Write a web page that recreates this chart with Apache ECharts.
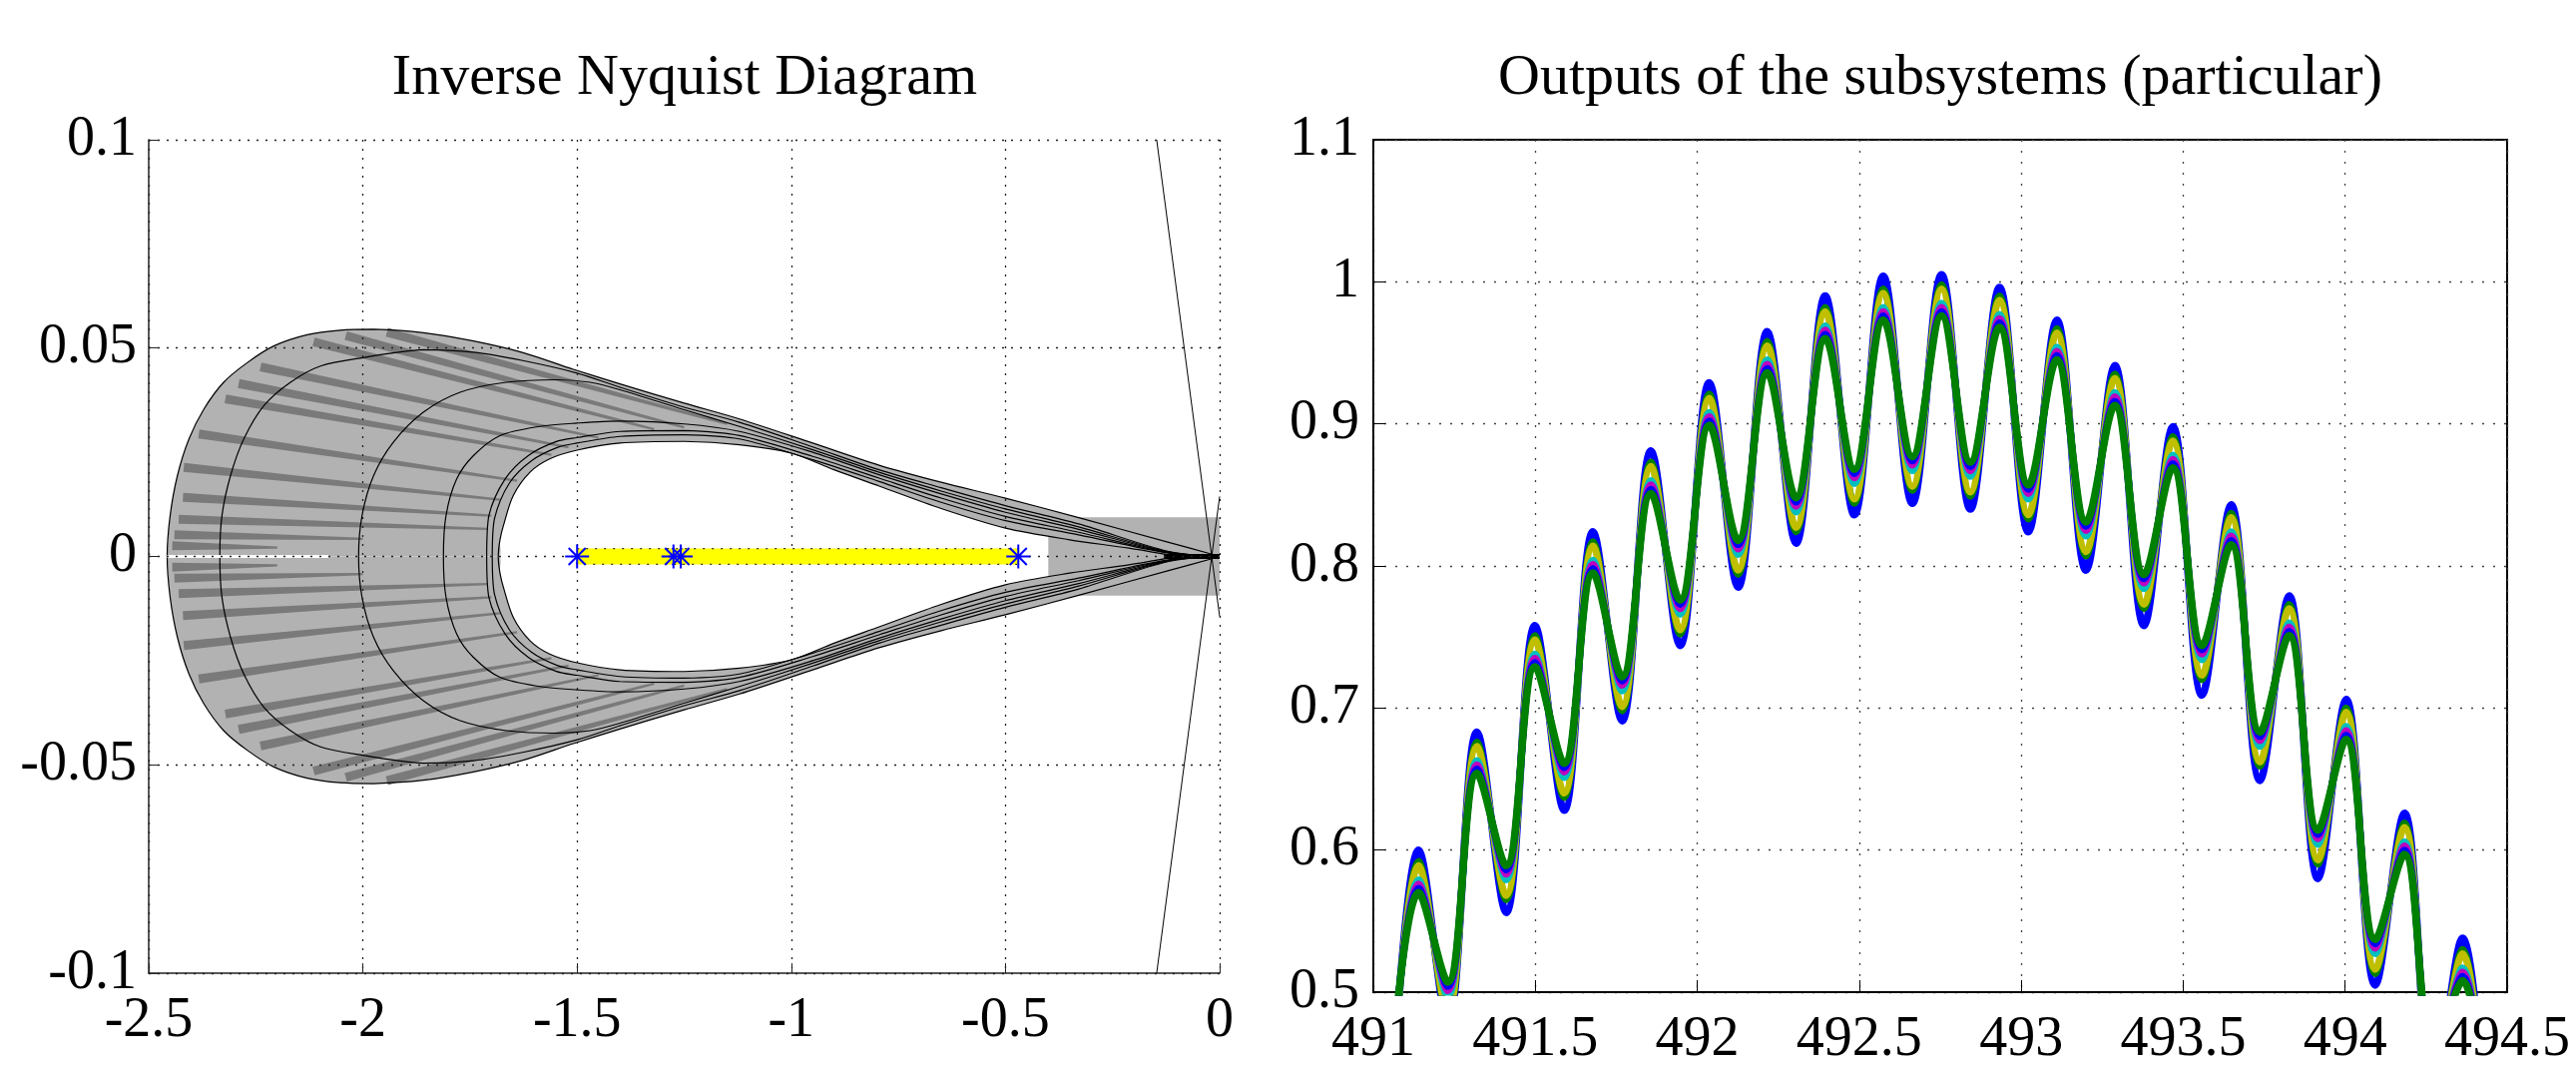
<!DOCTYPE html>
<html>
<head>
<meta charset="utf-8">
<script src="https://cdn.jsdelivr.net/npm/echarts@6/dist/echarts.min.js"></script>
<style>
  html, body { margin: 0; background: #fff; }
  #chart { width: 2581px; height: 1070px; }
</style>
</head>
<body>
<div id="chart"></div>
<script>
// ---------- left panel: inverse Nyquist templates (upper half, mirrored below) ----------
const outerEdge = [[-2.457, 0], [-2.450, 0.0098], [-2.433, 0.0194], [-2.406, 0.0282], [-2.371, 0.0354], [-2.325, 0.0418],
  [-2.270, 0.0465], [-2.208, 0.0505], [-2.130, 0.0532], [-2.053, 0.0543], [-1.975, 0.0545], [-1.859, 0.0537],
  [-1.742, 0.0517], [-1.626, 0.0489], [-1.509, 0.0449], [-1.400, 0.0414], [-1.250, 0.0368], [-1.121, 0.0330],
  [-0.950, 0.0272], [-0.795, 0.0219], [-0.650, 0.0178], [-0.500, 0.0140], [-0.329, 0.0093], [-0.119, 0.0034],
  [-0.020, 0.0006], [0, 0]];
const innerEdge = [[-1.684, 0], [-1.680, 0.0040], [-1.672, 0.0074], [-1.649, 0.0146], [-1.610, 0.0202], [-1.564, 0.0234],
  [-1.500, 0.0255], [-1.400, 0.0272], [-1.250, 0.0276], [-1.121, 0.0268], [-1.000, 0.0248], [-0.900, 0.0208],
  [-0.795, 0.0169], [-0.650, 0.0115], [-0.500, 0.0068], [-0.350, 0.0040], [-0.212, 0.0020], [-0.120, 0.0004], [-0.100, 0]];
const loopB = [[-2.334, 0], [-2.329, 0.0098], [-2.309, 0.0194], [-2.278, 0.0282], [-2.231, 0.0362], [-2.169, 0.0418],
  [-2.099, 0.0457], [-2.000, 0.0477], [-1.859, 0.0496], [-1.742, 0.0490], [-1.627, 0.0470], [-1.500, 0.0440],
  [-1.400, 0.0406], [-1.250, 0.0358], [-1.121, 0.0322], [-0.950, 0.0263], [-0.795, 0.0208], [-0.650, 0.0165],
  [-0.500, 0.0122], [-0.329, 0.0078], [-0.119, 0.0012], [0, 0]];
const loopC = [[-2.010, 0], [-2.002, 0.0098], [-1.975, 0.0194], [-1.929, 0.0274], [-1.859, 0.0346], [-1.773, 0.0394],
  [-1.665, 0.0418], [-1.548, 0.0424], [-1.470, 0.0418], [-1.400, 0.0400], [-1.250, 0.0352], [-1.121, 0.0312],
  [-0.950, 0.0256], [-0.795, 0.0202], [-0.650, 0.0157], [-0.500, 0.0114], [-0.329, 0.0071], [-0.119, 0.0011], [0, 0]];
const loopD = [[-1.812, 0], [-1.806, 0.0098], [-1.781, 0.0186], [-1.742, 0.0242], [-1.680, 0.0290], [-1.587, 0.0312],
  [-1.500, 0.0320], [-1.400, 0.0325], [-1.250, 0.0318], [-1.121, 0.0300], [-0.950, 0.0250], [-0.795, 0.0196],
  [-0.650, 0.0150], [-0.500, 0.0106], [-0.329, 0.0065], [-0.119, 0.0010], [0, 0]];
const loopE1 = [[-1.711, 0], [-1.706, 0.0098], [-1.668, 0.0186], [-1.614, 0.0242], [-1.550, 0.0275], [-1.500, 0.0285],
  [-1.400, 0.0300], [-1.250, 0.0302], [-1.121, 0.0290], [-0.950, 0.0240], [-0.795, 0.0188], [-0.650, 0.0140],
  [-0.500, 0.0096], [-0.329, 0.0058], [-0.119, 0.0009], [0, 0]];
const loopE2 = [[-1.698, 0], [-1.693, 0.0090], [-1.658, 0.0176], [-1.606, 0.0230], [-1.545, 0.0262], [-1.500, 0.0272],
  [-1.400, 0.0288], [-1.250, 0.0292], [-1.121, 0.0282], [-0.950, 0.0232], [-0.795, 0.0180], [-0.650, 0.0130],
  [-0.500, 0.0086], [-0.329, 0.0052], [-0.119, 0.0008], [0, 0]];
// darker overlap stripes: x1, y1 (outer end), x2, y2 (inner end)
const stripes = [
  [-1.944, 0.0538, -1.15, 0.0318], [-2.040, 0.0530, -1.25, 0.0310], [-2.115, 0.0515, -1.32, 0.0305],
  [-2.239, 0.0455, -1.45, 0.0285], [-2.290, 0.0415, -1.52, 0.0262], [-2.321, 0.0378, -1.56, 0.0244],
  [-2.383, 0.0294, -1.64, 0.0182], [-2.418, 0.0214, -1.68, 0.0136], [-2.420, 0.0142, -1.70, 0.0098],
  [-2.430, 0.0089, -1.71, 0.0066], [-2.440, 0.0052, -2.00, 0.0042], [-2.445, 0.0026, -2.20, 0.0021]
];
const markerX = [-1.5, -1.275, -1.258, -0.47];
const yellowBar = [-1.5, -0.47, 0.0019];     // x from, x to, half height
const tipRect = [-0.40, 0, 0.0094];          // x from, x to, half height
const crossLines = [[[-0.147, 0.1], [0, -0.0144]], [[-0.147, -0.1], [0, 0.0144]]];
const seam = [[-2.457, 0], [-2.08, 0]];

// ---------- right panel: subsystem outputs (peaks and troughs) ----------
const outX = [491.051, 491.140, 491.230, 491.320, 491.410, 491.499, 491.589, 491.678, 491.768, 491.857,
  491.947, 492.037, 492.126, 492.216, 492.305, 492.395, 492.485, 492.574, 492.664, 492.754, 492.843,
  492.933, 493.022, 493.110, 493.200, 493.289, 493.379, 493.468, 493.558, 493.648, 493.737, 493.827,
  493.916, 494.003, 494.093, 494.183, 494.272, 494.362, 494.451];
const outBlue = [0.400, 0.600, 0.478, 0.683, 0.556, 0.758, 0.628, 0.824, 0.691, 0.881, 0.744, 0.929, 0.785, 0.965,
  0.816, 0.990, 0.836, 1.004, 0.844, 1.005, 0.840, 0.996, 0.824, 0.973, 0.797, 0.941, 0.758, 0.898, 0.709,
  0.843, 0.649, 0.779, 0.580, 0.706, 0.505, 0.626, 0.430, 0.538, 0.340];
const outGreen2 = [0.406, 0.592, 0.483, 0.676, 0.565, 0.751, 0.637, 0.817, 0.698, 0.873, 0.752, 0.921, 0.794, 0.958,
  0.824, 0.982, 0.844, 0.995, 0.853, 0.998, 0.849, 0.990, 0.833, 0.967, 0.807, 0.935, 0.770, 0.891, 0.720,
  0.837, 0.659, 0.773, 0.590, 0.700, 0.513, 0.619, 0.436, 0.530, 0.346];
const outYellow = [0.409, 0.589, 0.486, 0.673, 0.568, 0.748, 0.640, 0.814, 0.701, 0.870, 0.755, 0.918, 0.797, 0.955,
  0.827, 0.979, 0.847, 0.992, 0.856, 0.995, 0.852, 0.987, 0.836, 0.964, 0.810, 0.932, 0.773, 0.888, 0.723,
  0.834, 0.662, 0.770, 0.593, 0.697, 0.516, 0.616, 0.439, 0.527, 0.349];
const outCyan = [0.420, 0.579, 0.497, 0.663, 0.579, 0.738, 0.651, 0.804, 0.712, 0.860, 0.766, 0.908, 0.808, 0.945,
  0.838, 0.969, 0.858, 0.982, 0.867, 0.985, 0.863, 0.977, 0.847, 0.954, 0.821, 0.922, 0.784, 0.878, 0.734,
  0.824, 0.673, 0.760, 0.604, 0.687, 0.527, 0.606, 0.450, 0.517, 0.360];
const outMagenta = [0.424, 0.576, 0.501, 0.660, 0.583, 0.735, 0.655, 0.801, 0.716, 0.857, 0.770, 0.905, 0.812, 0.942,
  0.842, 0.966, 0.862, 0.979, 0.871, 0.982, 0.867, 0.974, 0.851, 0.951, 0.825, 0.919, 0.788, 0.875, 0.738,
  0.821, 0.677, 0.757, 0.608, 0.684, 0.531, 0.603, 0.454, 0.514, 0.364];
const outBlue2 = [0.427, 0.573, 0.504, 0.657, 0.586, 0.732, 0.658, 0.798, 0.719, 0.854, 0.773, 0.902, 0.815, 0.939,
  0.845, 0.963, 0.865, 0.976, 0.874, 0.979, 0.870, 0.971, 0.854, 0.948, 0.828, 0.916, 0.791, 0.872, 0.741,
  0.818, 0.680, 0.754, 0.611, 0.681, 0.534, 0.600, 0.457, 0.511, 0.367];
const outGreen = [0.430, 0.570, 0.507, 0.654, 0.589, 0.729, 0.661, 0.795, 0.722, 0.851, 0.776, 0.899, 0.818, 0.936,
  0.848, 0.960, 0.868, 0.973, 0.877, 0.976, 0.873, 0.968, 0.857, 0.945, 0.831, 0.913, 0.794, 0.869, 0.744,
  0.815, 0.683, 0.751, 0.614, 0.678, 0.537, 0.597, 0.460, 0.508, 0.370];

const serif = '"Liberation Serif", "Times New Roman", serif';
const tickFont = 56;

const chart = echarts.init(document.getElementById('chart'));

function mirror(pts) { return pts.map(p => [p[0], -p[1]]); }
function fullLoop(upper) { return mirror(upper).reverse().concat(upper.slice(1)); }
function bbox(pts) { return [pts[0], pts[0]]; }

const bandUpper = outerEdge.concat(innerEdge.slice().reverse());
const bandLower = mirror(bandUpper);
const loops = [outerEdge, loopB, loopC, loopD, loopE1, loopE2, innerEdge].map(fullLoop);
const allStripes = stripes.concat(stripes.map(s => [s[0], -s[1], s[2], -s[3]]));

function polySeries(points, color) {
  return {
    type: 'custom', xAxisIndex: 0, yAxisIndex: 0, silent: true, z: 2,
    data: [[-1, 0]],
    renderItem: function (params, api) {
      const px = points.map(p => api.coord(p));
      return { type: 'polygon', shape: { points: px, smooth: 0.3, smoothConstraint: bbox(px) }, style: { fill: color } };
    }
  };
}

const axisText = { fontFamily: serif, fontSize: tickFont, color: '#000' };
const dotted = { type: [2, 7], color: '#222', width: 1.3 };

function outLine(vals, color, width) {
  return {
    type: 'line', xAxisIndex: 1, yAxisIndex: 1, showSymbol: false, smooth: 0.36,
    lineStyle: { color: color, width: width, join: 'round' },
    data: outX.map((x, i) => [x, vals[i]])
  };
}

const option = {
  animation: false,
  backgroundColor: '#fff',
  title: [
    { text: 'Inverse Nyquist Diagram', left: 686, top: 50, textAlign: 'center', padding: 0,
      textStyle: { fontFamily: serif, fontSize: 58, fontWeight: 'normal', color: '#000' } },
    { text: 'Outputs of the subsystems (particular)', left: 1944, top: 50, textAlign: 'center', padding: 0,
      textStyle: { fontFamily: serif, fontSize: 58, fontWeight: 'normal', color: '#000' } }
  ],
  grid: [
    { left: 149, top: 140, width: 1073, height: 835 },
    { left: 1376, top: 140, width: 1136, height: 876, show: true, borderColor: '#000', borderWidth: 2, backgroundColor: 'transparent' }
  ],
  xAxis: [
    { type: 'value', gridIndex: 0, min: -2.5, max: 0, interval: 0.5, z: 3,
      axisLine: { onZero: false, lineStyle: { color: '#222', width: 1.5 } },
      axisTick: { inside: true, length: 10, lineStyle: { color: '#222' } },
      axisLabel: Object.assign({ margin: 20 }, axisText),
      splitLine: { show: true, lineStyle: dotted } },
    { type: 'value', gridIndex: 1, min: 491, max: 494.5, interval: 0.5,
      axisLine: { onZero: false, lineStyle: { color: '#000', width: 2 } },
      axisTick: { inside: true, length: 12, lineStyle: { color: '#000' } },
      axisLabel: Object.assign({ margin: 20 }, axisText),
      splitLine: { show: true, lineStyle: { type: [2, 9], color: '#444', width: 1.3 } } }
  ],
  yAxis: [
    { type: 'value', gridIndex: 0, min: -0.1, max: 0.1, interval: 0.05, z: 3,
      axisLine: { show: true, onZero: false, lineStyle: { color: '#222', width: 1.5 } },
      axisTick: { show: true, inside: true, length: 10, lineStyle: { color: '#222' } },
      axisLabel: Object.assign({ margin: 12 }, axisText),
      splitLine: { show: true, lineStyle: dotted } },
    { type: 'value', gridIndex: 1, min: 0.5, max: 1.1, interval: 0.1,
      axisLine: { show: true, onZero: false, lineStyle: { color: '#000', width: 2 } },
      axisTick: { show: true, inside: true, length: 12, lineStyle: { color: '#000' } },
      axisLabel: Object.assign({ margin: 14 }, axisText),
      splitLine: { show: true, lineStyle: { type: [2, 9], color: '#444', width: 1.3 } } }
  ],
  series: [
    polySeries(bandUpper, '#b2b2b2'),
    polySeries(bandLower, '#b2b2b2'),
    {
      type: 'custom', xAxisIndex: 0, yAxisIndex: 0, silent: true, z: 2,
      data: [[tipRect[0], 0]],
      renderItem: function (params, api) {
        const a = api.coord([tipRect[0], tipRect[2]]);
        const b = api.coord([tipRect[1], -tipRect[2]]);
        return { type: 'rect', shape: { x: a[0], y: a[1], width: b[0] - a[0], height: b[1] - a[1] }, style: { fill: '#b2b2b2' } };
      }
    },
    {
      // tapered dark wedges: wide at the outer end, pointed at the inner end
      type: 'custom', xAxisIndex: 0, yAxisIndex: 0, silent: true, z: 2,
      data: allStripes,
      renderItem: function (params, api) {
        const a = api.coord([api.value(0), api.value(1)]);
        const b = api.coord([api.value(2), api.value(3)]);
        const dx = b[0] - a[0], dy = b[1] - a[1];
        const len = Math.sqrt(dx * dx + dy * dy) || 1;
        const nx = -dy / len * 4.5, ny = dx / len * 4.5;
        return { type: 'polygon',
          shape: { points: [[a[0] + nx, a[1] + ny], [a[0] - nx, a[1] - ny], [b[0] - nx * 0.25, b[1] - ny * 0.25], [b[0] + nx * 0.25, b[1] + ny * 0.25]] },
          style: { fill: '#7a7a7a' } };
      }
    },
    {
      type: 'line', xAxisIndex: 0, yAxisIndex: 0, showSymbol: false, silent: true, z: 2,
      lineStyle: { color: '#fff', width: 3 }, data: seam
    },
    {
      type: 'custom', xAxisIndex: 0, yAxisIndex: 0, silent: true, z: 2,
      data: loops.map((l, i) => [-1, 0, i]),
      renderItem: function (params, api) {
        const px = loops[api.value(2)].map(p => api.coord(p));
        return { type: 'polyline', shape: { points: px, smooth: 0.3, smoothConstraint: bbox(px) },
          style: { stroke: '#000', lineWidth: 1.2, fill: null } };
      }
    },
    {
      type: 'line', xAxisIndex: 0, yAxisIndex: 0, showSymbol: false, silent: true, z: 2,
      lineStyle: { color: '#000', width: 5 }, data: [[-0.13, 0], [0, 0]]
    },
    {
      type: 'line', xAxisIndex: 0, yAxisIndex: 0, showSymbol: false, silent: true, z: 2,
      lineStyle: { color: '#000', width: 1 }, data: crossLines[0]
    },
    {
      type: 'line', xAxisIndex: 0, yAxisIndex: 0, showSymbol: false, silent: true, z: 2,
      lineStyle: { color: '#000', width: 1 }, data: crossLines[1]
    },
    {
      type: 'custom', xAxisIndex: 0, yAxisIndex: 0, silent: true, z: 4,
      data: [[yellowBar[0], 0]],
      renderItem: function (params, api) {
        const a = api.coord([yellowBar[0], yellowBar[2]]);
        const b = api.coord([yellowBar[1], -yellowBar[2]]);
        return { type: 'rect', shape: { x: a[0], y: a[1], width: b[0] - a[0], height: b[1] - a[1] },
          style: { fill: '#ffff00', stroke: '#333', lineWidth: 1.3, lineDash: [2, 7] } };
      }
    },
    {
      type: 'custom', xAxisIndex: 0, yAxisIndex: 0, silent: true, z: 5,
      data: markerX.map(x => [x, 0]),
      renderItem: function (params, api) {
        const c = api.coord([api.value(0), api.value(1)]);
        const r = 12, d = 8.5;
        const seg = (x1, y1, x2, y2) => ({ type: 'line',
          shape: { x1: c[0] + x1, y1: c[1] + y1, x2: c[0] + x2, y2: c[1] + y2 },
          style: { stroke: '#0000ff', lineWidth: 2 } });
        return { type: 'group', children: [seg(-r, 0, r, 0), seg(0, -r, 0, r), seg(-d, -d, d, d), seg(-d, d, d, -d)] };
      }
    },
    outLine(outBlue, '#0000ff', 7.5),
    outLine(outGreen2, '#008000', 7),
    outLine(outYellow, '#bfbf00', 7),
    outLine(outCyan, '#00bfbf', 7),
    outLine(outMagenta, '#bf00bf', 7),
    outLine(outBlue2, '#0000ff', 7),
    outLine(outGreen, '#008000', 7.5)
  ]
};

chart.setOption(option);
</script>
</body>
</html>
